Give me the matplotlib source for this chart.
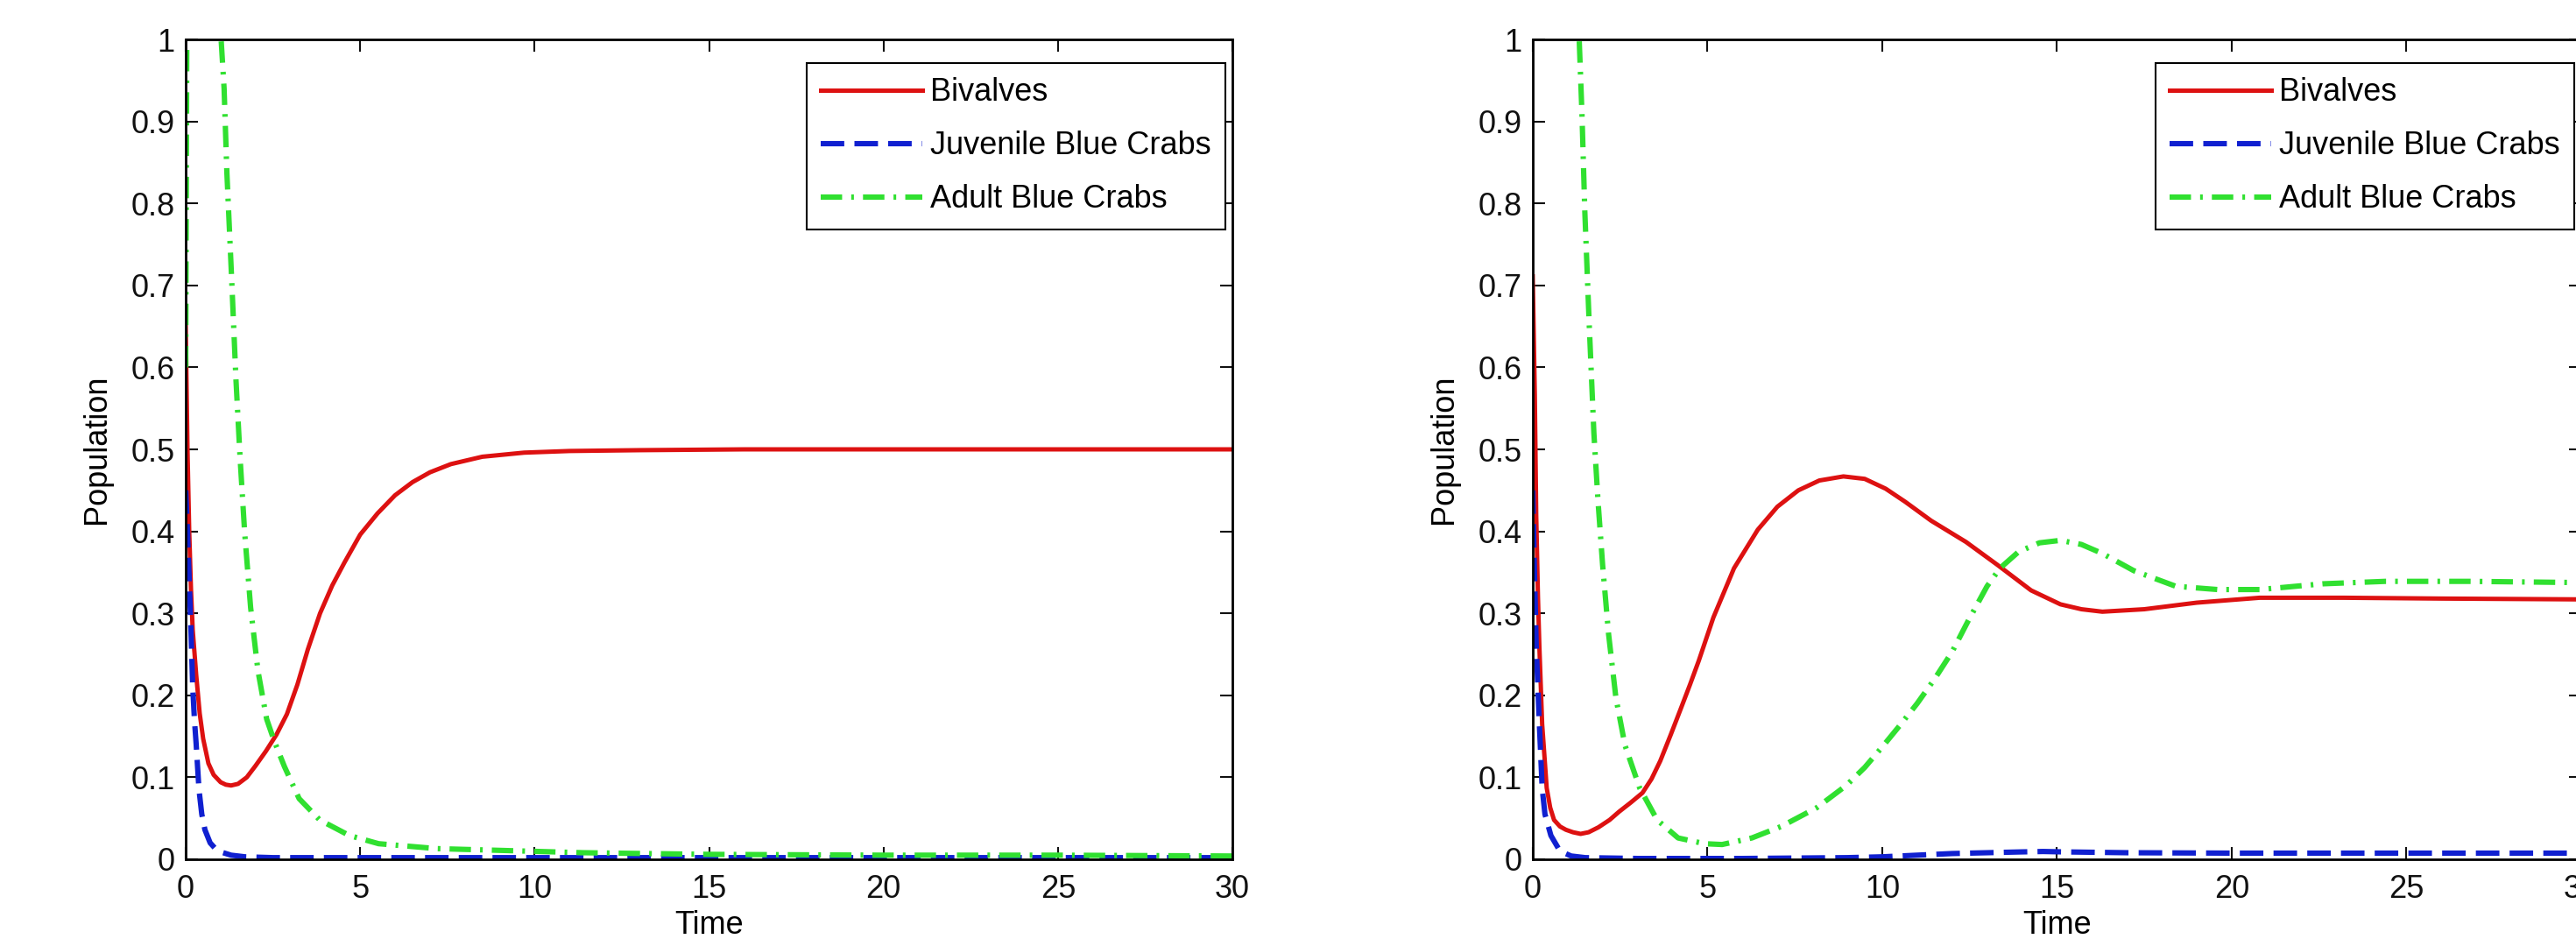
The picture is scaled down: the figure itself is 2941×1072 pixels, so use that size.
import matplotlib as mpl
mpl.use('Agg')

import matplotlib.pyplot as plt
from matplotlib.ticker import FormatStrFormatter

plt.rcParams['font.family'] = ['Liberation Sans', 'DejaVu Sans']

# ========================================================================================
# left panel

t_bv_left = [0, 0.05, 0.1, 0.15, 0.2, 0.3, 0.4, 0.5, 0.65, 0.8, 1.0, 1.15, 1.3, 1.5, 1.75,
             2.0, 2.3, 2.6, 2.9, 3.2, 3.5, 3.85, 4.2, 4.55, 5.0, 5.5, 6.0, 6.5, 7.0, 7.6,
             8.5, 9.7, 11, 13, 16, 20, 25, 30]
bv_left = [0.65, 0.50, 0.40, 0.33, 0.28, 0.225, 0.178, 0.147, 0.117, 0.103, 0.094, 0.091,
           0.090, 0.092, 0.100, 0.114, 0.132, 0.152, 0.177, 0.213, 0.256, 0.300, 0.334,
           0.362, 0.396, 0.422, 0.444, 0.460, 0.472, 0.482, 0.491, 0.496, 0.498, 0.499,
           0.5, 0.5, 0.5, 0.5]

t_juv_left = [0, 0.05, 0.1, 0.15, 0.2, 0.25, 0.3, 0.38, 0.46, 0.55, 0.7, 0.85, 1.0, 1.3,
              1.7, 2.5, 4, 8, 15, 22, 30]
juv_left = [0.45, 0.40, 0.34, 0.28, 0.21, 0.17, 0.14, 0.085, 0.055, 0.036, 0.020, 0.013,
            0.009, 0.005, 0.003, 0.002, 0.002, 0.002, 0.002, 0.002, 0.002]

t_adult_left = [0, 0.03, 0.08, 0.15, 0.3, 0.5, 0.7, 0.85, 1.0, 1.1, 1.18, 1.31, 1.44,
                1.56, 1.69, 1.86, 2.07, 2.32, 2.53, 2.83, 3.25, 3.84, 4.69, 5.53, 7.2,
                8.9, 11.4, 15, 20, 25, 30]
adult_left = [0.6, 1.0, 1.4, 1.7, 1.9, 1.8, 1.5, 1.25, 1.01, 0.94, 0.837, 0.714, 0.585,
              0.488, 0.398, 0.307, 0.23, 0.171, 0.145, 0.113, 0.074, 0.048, 0.029, 0.019,
              0.013, 0.011, 0.008, 0.006, 0.005, 0.005, 0.004]

# ========================================================================================
# right panel

t_bv_right = [0, 0.06, 0.1, 0.15, 0.19, 0.27, 0.4, 0.5, 0.61, 0.78, 0.95, 1.15, 1.37, 1.6,
              1.88, 2.2, 2.47, 2.8, 3.14, 3.4, 3.65, 3.95, 4.24, 4.5, 4.75, 5.17, 5.76,
              6.44, 7.0, 7.6, 8.2, 8.89, 9.5, 10.1, 10.66, 11.4, 12.4, 13.3, 14.26, 15.1,
              15.7, 16.3, 17.5, 19.0, 20.8, 23.2, 26, 30]
bv_right = [0.711, 0.566, 0.42, 0.32, 0.26, 0.165, 0.087, 0.063, 0.048, 0.040, 0.036,
            0.033, 0.031, 0.033, 0.039, 0.048, 0.058, 0.069, 0.081, 0.098, 0.12, 0.152,
            0.184, 0.213, 0.242, 0.295, 0.355, 0.402, 0.430, 0.450, 0.462, 0.467, 0.464,
            0.452, 0.436, 0.413, 0.387, 0.359, 0.328, 0.311, 0.305, 0.302, 0.305, 0.313,
            0.319, 0.319, 0.318, 0.317]

t_juv_right = [0, 0.05, 0.1, 0.19, 0.27, 0.35, 0.52, 0.78, 1.1, 1.5, 3, 6, 9, 10, 11, 12,
               13, 14, 14.6, 15.2, 17, 20, 25, 30]
juv_right = [0.45, 0.35, 0.26, 0.165, 0.087, 0.055, 0.029, 0.010, 0.004, 0.002, 0.001,
             0.001, 0.002, 0.003, 0.005, 0.007, 0.008, 0.009, 0.0095, 0.009, 0.008, 0.0075,
             0.0075, 0.0075]

t_adult_right = [0, 0.3, 0.6, 0.9, 1.1, 1.33, 1.41, 1.49, 1.62, 1.75, 1.87, 2.0, 2.17,
                 2.38, 2.64, 3.06, 3.56, 4.16, 4.92, 5.42, 6.27, 7.11, 8.13, 8.97, 9.5,
                 10.0, 10.5, 11.0, 11.5, 12.0, 12.45, 13.0, 13.37, 13.9, 14.5, 15.1, 15.7,
                 16.3, 17.2, 18.4, 19.6, 20.8, 22.6, 24.4, 26.8, 30]
adult_right = [1.5, 1.9, 1.7, 1.35, 1.15, 1.0, 0.908, 0.791, 0.649, 0.52, 0.436, 0.359,
               0.275, 0.197, 0.139, 0.087, 0.048, 0.026, 0.019, 0.018, 0.026, 0.040, 0.063,
               0.090, 0.112, 0.137, 0.163, 0.190, 0.220, 0.253, 0.290, 0.333, 0.355, 0.375,
               0.386, 0.389, 0.384, 0.373, 0.352, 0.333, 0.329, 0.329, 0.336, 0.339, 0.339,
               0.3375]

labels = ["Bivalves", "Juvenile Blue Crabs", "Adult Blue Crabs"]
x_ticks = [0, 5, 10, 15, 20, 25, 30]
y_ticks = [0, 0.1, 0.2, 0.3, 0.4, 0.5, 0.6, 0.7, 0.8, 0.9, 1]

# ========================================================================================

def drawPanel(ax, t_bv, bv, t_juv, juv, t_adult, adult):

    ax.plot(t_bv, bv, color='#dd1111', lw=3.6, label=labels[0])
    ax.plot(t_juv, juv, color='#1020d0', lw=4.4, dashes=(4.4, 1.9), label=labels[1])
    ax.plot(t_adult, adult, color='#30e030', lw=4.4, dashes=(4.0, 1.7, 0.5, 1.7),
            label=labels[2])

    ax.set_xlim(0, 30)
    ax.set_ylim(0, 1)
    ax.set_xticks(x_ticks)
    ax.set_yticks(y_ticks)
    ax.yaxis.set_major_formatter(FormatStrFormatter('%g'))

    ax.tick_params(direction='in', length=10, width=1.5, top=True, right=True,
                   labelsize=26, colors='#111111')
    ax.tick_params(axis='y', pad=9)
    ax.tick_params(axis='x', pad=12)
    for spine in ax.spines.values():
        spine.set_linewidth(2)

    ax.set_xlabel("Time", fontsize=26)
    ax.set_ylabel("Population", fontsize=26)
    ax.xaxis.set_label_coords(0.5, -0.062)
    ax.yaxis.set_label_coords(-0.070, 0.5)

    leg = ax.legend(loc='upper right', bbox_to_anchor=(0.993, 0.971), fontsize=26,
                    fancybox=False, framealpha=1, edgecolor='black', borderaxespad=0,
                    handlelength=3.2, handletextpad=0.25, labelspacing=0.72,
                    borderpad=0.45)
    leg.get_frame().set_linewidth(1.5)

# ========================================================================================

fig = plt.figure(figsize=(29.41, 10.72), dpi=100)

ax1 = fig.add_axes([0.0721, 0.0849, 0.4063, 0.8731])
drawPanel(ax1, t_bv_left, bv_left, t_juv_left, juv_left, t_adult_left, adult_left)

ax2 = fig.add_axes([0.5950, 0.0849, 0.4070, 0.8731])
drawPanel(ax2, t_bv_right, bv_right, t_juv_right, juv_right, t_adult_right, adult_right)

plt.savefig("out.png", dpi=100)
